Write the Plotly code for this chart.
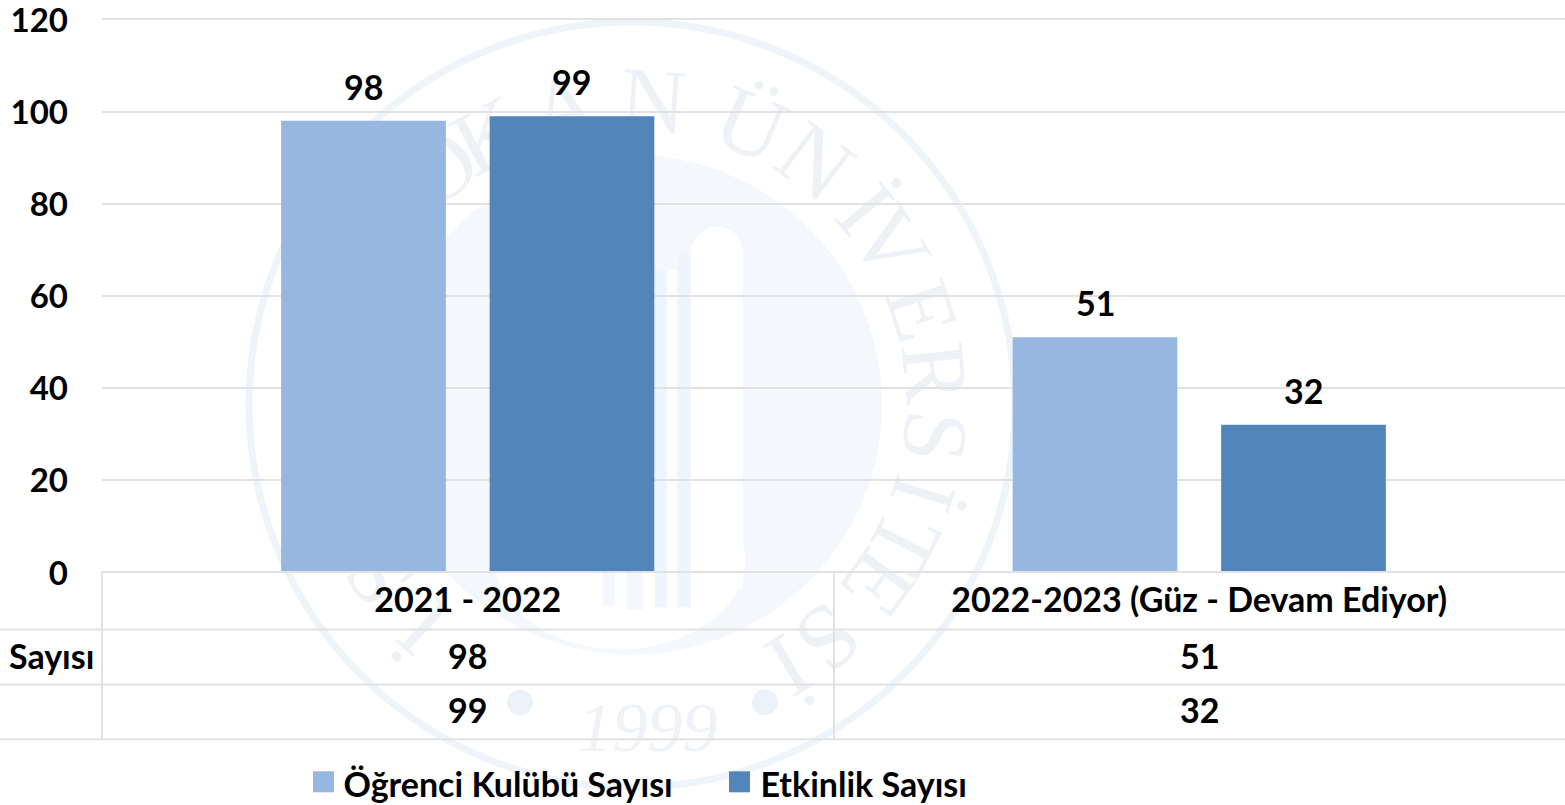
import math
import plotly.graph_objects as go

categories = ["2021 - 2022", "2022-2023 (Güz - Devam Ediyor)"]
series_names = ["Öğrenci Kulübü Sayısı", "Etkinlik Sayısı"]
clubs = [98, 51]
events = [99, 32]
y_ticks = [0, 20, 40, 60, 80, 100, 120]
table_row_labels = ["Sayısı", ""]

LIGHT = "#97B6E0"
DARK = "#5286BB"
GRID = "#E2E2E2"
FONT = "Lato"
FS = 34
TICK_FS = 33
BARGAP = 0.43
GROUPGAP = 0.21

W, H = 1565, 805
L, R, T, B = 102, 1565, 12, 572.5
Y_TOP = 120 + (19.5 - T) / ((B - 19.5) / 120)


def px(v):
    return (v - L) / (R - L)


def py(v):
    return (B - v) / (B - T)


def circle(cx, cy, r, fill, line=None, lw=0, ry=None):
    ry = ry or r
    return dict(type="circle", xref="paper", yref="paper", layer="below",
                x0=px(cx - r), x1=px(cx + r), y0=py(cy + ry), y1=py(cy - ry),
                fillcolor=fill, line=dict(color=line or "rgba(0,0,0,0)", width=lw))


def rect(x0, y0, x1, y1, fill, layer="below"):
    return dict(type="rect", xref="paper", yref="paper", layer=layer,
                x0=px(x0), x1=px(x1), y0=py(y1), y1=py(y0),
                fillcolor=fill, line=dict(width=0))


def hline(y, x0=0, x1=W):
    return dict(type="line", xref="paper", yref="paper", layer="above",
                x0=px(x0), x1=px(x1), y0=py(y), y1=py(y),
                line=dict(color=GRID, width=2))


def vline(x, y0, y1):
    return dict(type="line", xref="paper", yref="paper", layer="above",
                x0=px(x), x1=px(x), y0=py(y0), y1=py(y1),
                line=dict(color=GRID, width=2))


# faint seal behind the chart
CX, CY, RING, DISC, LETTER_R = 632, 405, 383, 250, 315
seal_letters = ["İ", "S", "O", "K", "A", "N", "Ü", "N", "İ", "V", "E", "R", "S", "İ", "T", "E", "S", "İ"]
seal_angles = [223, 236, 321, 332, 347, 4, 23, 37, 50, 58, 72, 84, 96, 107, 117, 126, 140, 149]

shapes = [
    circle(CX, CY, RING, "rgba(0,0,0,0)", "#EEF4FA", 7),
    circle(CX, CY, DISC, "#F4F7FB"),
    circle(620, 560, 125, "#FFFFFF", ry=90),
    rect(603, 572, 615, 606, "#F4F8FC"),
    rect(627, 572, 643, 610, "#F3F7FC"),
    rect(655, 270, 667, 608, "#EEF6FD"),
    rect(667, 270, 677, 608, "#FDFDFA"),
    rect(677, 253, 691, 608, "#F0F5FB"),
    rect(691, 253, 743, 590, "#FFFFFF"),
    circle(717, 253, 26, "#FFFFFF"),
    circle(520, 703, 13, "#EBF2F9"),
    circle(765, 703, 13, "#EBF2F9"),
]
for ch, ang in zip(seal_letters, seal_angles):
    a = math.radians(ang)
    x = CX + LETTER_R * math.sin(a)
    y = CY - LETTER_R * math.cos(a)
    s = rect(x - 50, y - 50, x + 50, y + 50, "rgba(0,0,0,0)")
    s["label"] = dict(text=ch, textangle=ang if ang < 180 else ang - 360, textposition="middle center",
                      font=dict(family="Liberation Serif", size=92, color="#EEF2F7", weight="normal"))
    shapes.append(s)
s = rect(560, 680, 735, 760, "rgba(0,0,0,0)")
s["label"] = dict(text="<i>1999</i>", textposition="middle center",
                  font=dict(family="Liberation Serif", size=70, color="#EFF2F6", weight="normal"))
shapes.append(s)

# data table rules
shapes += [hline(572.5, L, W), hline(630), hline(685), hline(740),
           vline(L, 572.5, 740), vline(834, 572.5, 740)]

# enlarged legend swatches
shapes += [rect(313, 772, 334, 793, LIGHT, "above"), rect(729, 772, 750, 793, DARK, "above")]

fig = go.Figure()
fig.add_bar(x=categories, y=clubs, name=series_names[0], marker=dict(color=LIGHT, line=dict(width=0)))
fig.add_bar(x=categories, y=events, name=series_names[1], marker=dict(color=DARK, line=dict(width=0)))

annotations = []
offset = (1 - BARGAP) / 4
tf = dict(family=FONT, size=FS, color="#000000", weight="bold")
for i in range(len(categories)):
    for vals, sgn in ((clubs, -1), (events, 1)):
        annotations.append(dict(x=i + sgn * offset, y=vals[i], xref="x", yref="y", text=str(vals[i]),
                                showarrow=False, yanchor="bottom", yshift=12, font=tf))
    annotations.append(dict(x=i, y=py(656), xref="x", yref="paper", text=str(clubs[i]),
                            showarrow=False, yanchor="middle", font=tf))
    annotations.append(dict(x=i, y=py(710), xref="x", yref="paper", text=str(events[i]),
                            showarrow=False, yanchor="middle", font=tf))
annotations.append(dict(x=px(96), y=py(656), xref="paper", yref="paper", text=table_row_labels[0],
                        showarrow=False, xanchor="right", yanchor="middle", font=tf))

fig.update_layout(
    width=W, height=H, autosize=False,
    margin=dict(l=L, r=W - R, t=T, b=H - B, pad=0),
    paper_bgcolor="#FFFFFF", plot_bgcolor="rgba(0,0,0,0)",
    barmode="group", bargap=BARGAP, bargroupgap=GROUPGAP,
    font=dict(family=FONT, size=FS, color="#000000", weight="bold"),
    shapes=shapes, annotations=annotations,
    legend=dict(orientation="h", xref="container", yref="container", x=303.5 / W, xanchor="left",
                y=1 - 784 / H, yanchor="middle",
                itemwidth=30, entrywidth=372, entrywidthmode="pixels",
                itemclick=False, itemdoubleclick=False,
                bgcolor="rgba(0,0,0,0)", font=dict(family=FONT, size=FS, color="#000000", weight="bold")),
    xaxis=dict(type="category", automargin=False, showgrid=False, showline=False, zeroline=False, ticks="",
               ticklabelstandoff=5, tickfont=tf),
    yaxis=dict(range=[0, Y_TOP], automargin=False, tickmode="array", tickvals=y_ticks, showgrid=True,
               gridcolor=GRID, gridwidth=2, zeroline=False, showline=False, ticks="", ticklabelstandoff=33,
               ticklabelshift=1, tickfont=dict(family=FONT, size=TICK_FS, color="#000000", weight="bold"),
               ticklabeloverflow="allow"),
)
fig.write_html("out.html", config=dict(displayModeBar=False),
               post_script="document.body.style.margin='0';document.body.style.overflow='hidden';")
